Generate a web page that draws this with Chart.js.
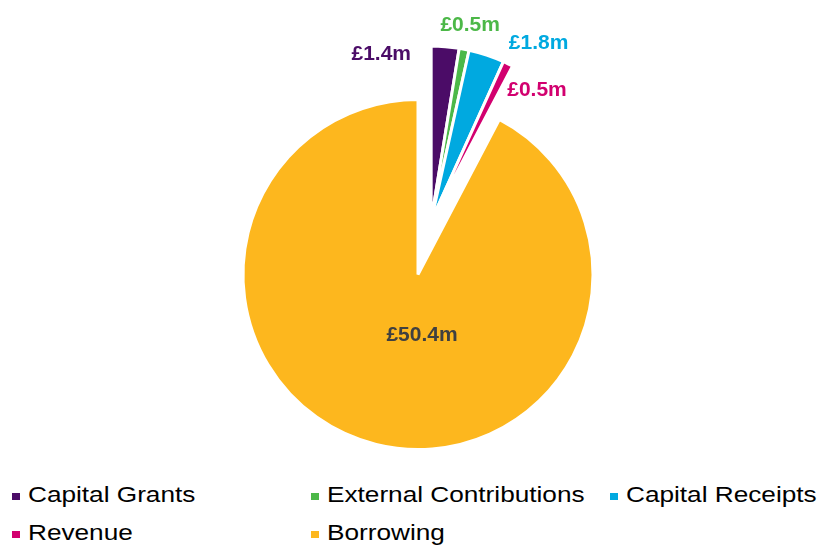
<!DOCTYPE html>
<html>
<head>
<meta charset="utf-8">
<title>Capital financing</title>
<script src="https://cdn.jsdelivr.net/npm/chart.js@4.4.1/dist/chart.umd.min.js"></script>
<style>
  html, body { margin: 0; padding: 0; background: #fff; }
  #wrap { position: relative; width: 822px; height: 550px; overflow: hidden; }
  #pie { position: absolute; left: 0; top: 0; }
  .legend-item { position: absolute; height: 30px; }
  .legend-item .swatch { position: absolute; left: 0; top: 9px; width: 8px; height: 7px; }
  .legend-item .text {
    position: absolute; left: 16px; top: 0;
    white-space: nowrap; color: #000;
    font: 22px "Liberation Sans", Arial, sans-serif; line-height: 22px;
    transform: scaleX(1.19); transform-origin: left top;
  }
</style>
</head>
<body>
<div id="wrap">
  <canvas id="pie" width="822" height="470"></canvas>
  <div id="legend"></div>
</div>
<script>
const CATEGORIES = ['Capital Grants', 'External Contributions', 'Capital Receipts', 'Revenue', 'Borrowing'];
const VALUES     = [1.4, 0.5, 1.8, 0.5, 50.4];
const COLORS     = ['#4b0c67', '#4cb848', '#00a9e0', '#d2006f', '#fdb71e'];
const LABEL_COLORS = ['#4b0c67', '#4cb848', '#00a9e0', '#d2006f', '#404040'];

// layout
const EXPLODE_PX = 55;
const LABEL_PLACE = [
  { r: 1, dx: -64, dy: 8 },
  { r: 1, dx: 6,   dy: -24 },
  { r: 1, dx: 52,  dy: -12 },
  { r: 1, dx: 29,  dy: 26 },
  { r: 0, dx: 4,   dy: 61 },
];
const LEGEND_X = [12, 311, 610];
const LEGEND_Y = [484, 522];

const maxValue = Math.max(...VALUES);
const isExploded = i => VALUES[i] !== maxValue;

// small slices are pulled out together, along the middle of their group
function groupShift(arcs) {
  const idx = arcs.map((a, i) => i).filter(isExploded);
  if (!idx.length) return { x: 0, y: 0 };
  const mid = (arcs[idx[0]].startAngle + arcs[idx[idx.length - 1]].endAngle) / 2;
  return { x: Math.cos(mid) * EXPLODE_PX, y: Math.sin(mid) * EXPLODE_PX };
}

const explodePlugin = {
  id: 'explode',
  beforeDatasetDraw(chart, args) {
    const arcs  = args.meta.data;
    const ctx   = chart.ctx;
    const shift = groupShift(arcs);
    arcs.forEach((arc, i) => {
      ctx.save();
      if (isExploded(i)) ctx.translate(shift.x, shift.y);
      arc.draw(ctx, chart.chartArea);
      ctx.restore();
    });
    return false;
  }
};

const labelPlugin = {
  id: 'sliceLabels',
  afterDatasetsDraw(chart) {
    const arcs  = chart.getDatasetMeta(0).data;
    const ctx   = chart.ctx;
    const shift = groupShift(arcs);
    ctx.save();
    ctx.font = 'bold 21px "Liberation Sans", Arial, sans-serif';
    ctx.textAlign = 'center';
    ctx.textBaseline = 'middle';
    arcs.forEach((arc, i) => {
      const p   = LABEL_PLACE[i];
      const mid = (arc.startAngle + arc.endAngle) / 2;
      const sx  = isExploded(i) ? shift.x : 0;
      const sy  = isExploded(i) ? shift.y : 0;
      const x = arc.x + sx + Math.cos(mid) * arc.outerRadius * p.r + p.dx;
      const y = arc.y + sy + Math.sin(mid) * arc.outerRadius * p.r + p.dy;
      ctx.fillStyle = LABEL_COLORS[i];
      ctx.fillText('£' + VALUES[i].toFixed(1) + 'm', x, y);
    });
    ctx.restore();
  }
};

new Chart(document.getElementById('pie'), {
  type: 'pie',
  data: {
    labels: CATEGORIES,
    datasets: [{
      data: VALUES,
      backgroundColor: COLORS,
      borderColor: '#ffffff',
      borderWidth: 3,
    }]
  },
  options: {
    responsive: false,
    animation: false,
    radius: 175,
    layout: { padding: { left: 14, right: 0, top: 79, bottom: 0 } },
    plugins: {
      legend: { display: false },
      tooltip: { enabled: false },
    }
  },
  plugins: [explodePlugin, labelPlugin]
});

// legend, three to a row
const legend = document.getElementById('legend');
CATEGORIES.forEach((name, i) => {
  const item = document.createElement('div');
  item.className = 'legend-item';
  item.style.left = LEGEND_X[i % 3] + 'px';
  item.style.top  = LEGEND_Y[Math.floor(i / 3)] + 'px';
  item.innerHTML = `<span class="swatch" style="background:${COLORS[i]}"></span><span class="text">${name}</span>`;
  legend.appendChild(item);
});
</script>
</body>
</html>
